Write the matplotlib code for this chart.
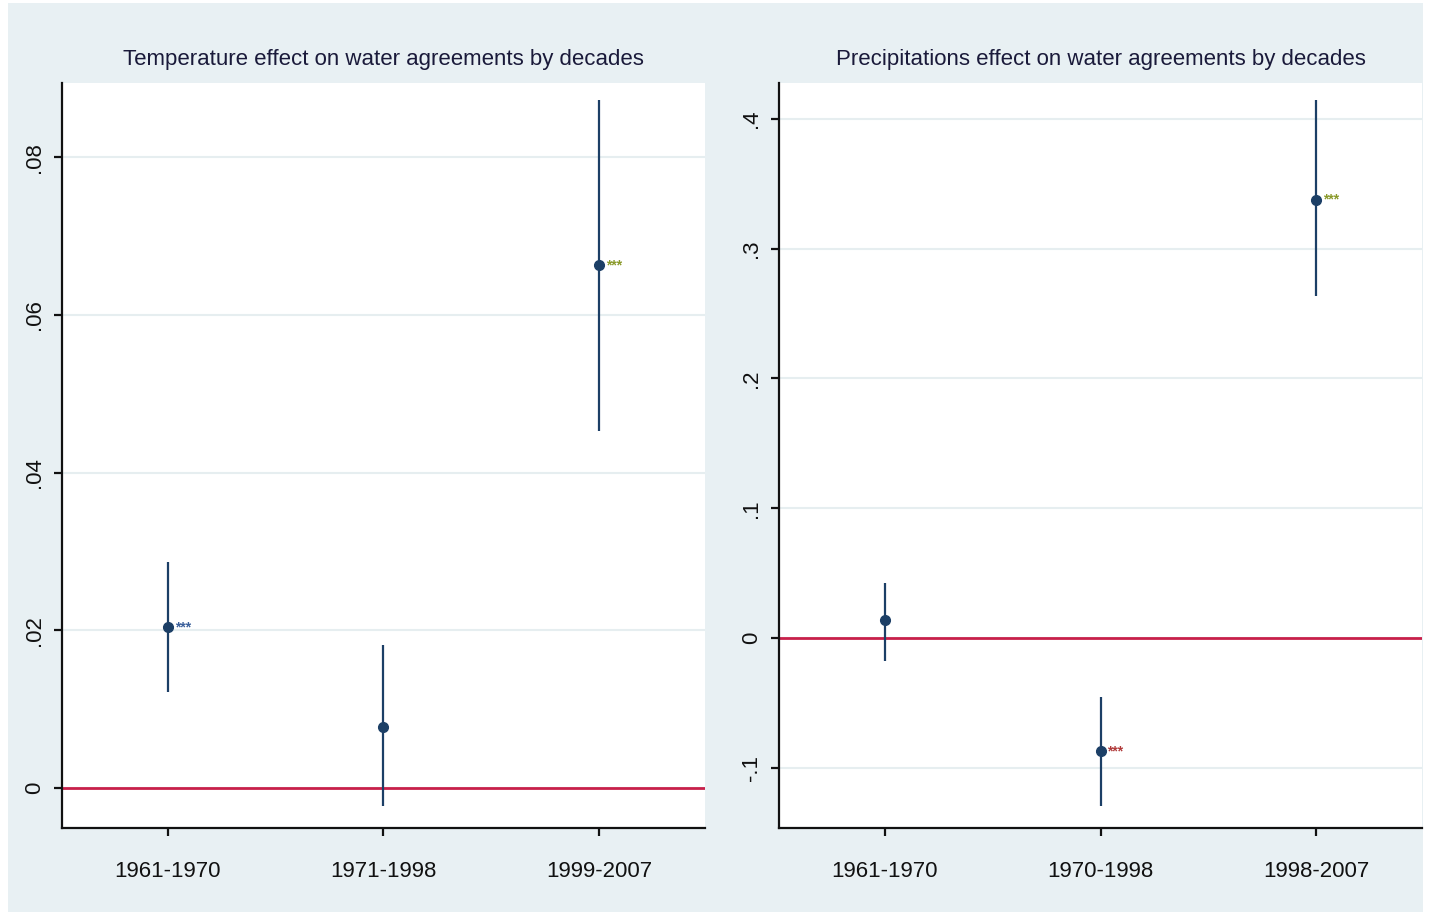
import matplotlib.pyplot as plt
from matplotlib.patches import Rectangle
import matplotlib.font_manager as fm

# Data
temp_periods = ["1961-1970", "1971-1998", "1999-2007"]
temp_coef = [0.0204, 0.0077, 0.0663]
temp_lo = [0.0122, -0.0023, 0.0453]
temp_hi = [0.0287, 0.0181, 0.0872]
temp_stars = ["***", "", "***"]
temp_star_colors = ["#3a5f9a", None, "#8a9a2a"]

prec_periods = ["1961-1970", "1970-1998", "1998-2007"]
prec_coef = [0.0139, -0.0871, 0.3376]
prec_lo = [-0.0177, -0.1295, 0.2636]
prec_hi = [0.0424, -0.0455, 0.4146]
prec_stars = ["", "***", "***"]
prec_star_colors = [None, "#b03a3a", "#8a9a2a"]

names = {f.name for f in fm.fontManager.ttflist}
font = "Liberation Sans Narrow" if "Liberation Sans Narrow" in names else "Liberation Sans"
plt.rcParams['font.family'] = [font, 'DejaVu Sans']

bg = "#e8f0f3"
navy = "#1c3f66"
grid_c = "#e6eef0"
red = "#c8204a"

fig = plt.figure(figsize=(14.31, 9.15), dpi=100)
fig.patch.set_facecolor("white")
fig.patches.append(Rectangle((8 / 1431, 3 / 915), 1 - 16 / 1431, 1 - 6 / 915,
                             transform=fig.transFigure, facecolor=bg, edgecolor="none", zorder=-10))

W, H = 1431, 915


def make_ax(left, top, right, bottom):
    return fig.add_axes([left / W, 1 - bottom / H, (right - left) / W, (bottom - top) / H])


def draw_panel(ax, periods, coef, lo, hi, stars, star_colors, yticks, ylabels, ylim, title):
    x = list(range(1, len(periods) + 1))
    ax.set_facecolor("white")
    for t in yticks:
        ax.axhline(t, color=grid_c, lw=1.5, zorder=0)
    ax.axhline(0, color=red, lw=2, zorder=1)
    ax.vlines(x, lo, hi, color=navy, lw=1.6, zorder=2)
    ax.plot(x, coef, "o", color=navy, ms=7, zorder=3)
    for xi, yi, s, c in zip(x, coef, stars, star_colors):
        if s:
            ax.annotate(s, (xi, yi), xytext=(5, 0), textcoords="offset points",
                        fontsize=10, color=c, va="center", ha="left", fontweight="bold")
    ax.set_xlim(0.51, 3.49)
    ax.set_ylim(*ylim)
    ax.set_xticks(x)
    ax.set_xticklabels(periods, fontsize=16, color="#111111")
    ax.set_yticks(yticks)
    ax.set_yticklabels(ylabels, rotation=90, fontsize=16, va="center", color="#111111")
    for side in ["top", "right"]:
        ax.spines[side].set_visible(False)
    for side in ["left", "bottom"]:
        ax.spines[side].set_linewidth(1.6)
        ax.spines[side].set_color("#111111")
    ax.tick_params(axis="both", length=6, width=1.6, color="#111111")
    ax.tick_params(axis="x", pad=18)
    ax.tick_params(axis="y", pad=6)
    ax.set_title(title, fontsize=16, color="#1a1a3a", pad=13)


ax1 = make_ax(62, 83, 705, 828)
draw_panel(ax1, temp_periods, temp_coef, temp_lo, temp_hi, temp_stars, temp_star_colors,
           [0, 0.02, 0.04, 0.06, 0.08], ["0", ".02", ".04", ".06", ".08"],
           (-0.00507, 0.0894), "Temperature effect on water agreements by decades")

ax2 = make_ax(779, 83, 1422, 828)
draw_panel(ax2, prec_periods, prec_coef, prec_lo, prec_hi, prec_stars, prec_star_colors,
           [-0.1, 0, 0.1, 0.2, 0.3, 0.4], ["-.1", "0", ".1", ".2", ".3", ".4"],
           (-0.1464, 0.4277), "Precipitations effect on water agreements by decades")

fig.savefig("out.png", dpi=100, facecolor=fig.get_facecolor())
